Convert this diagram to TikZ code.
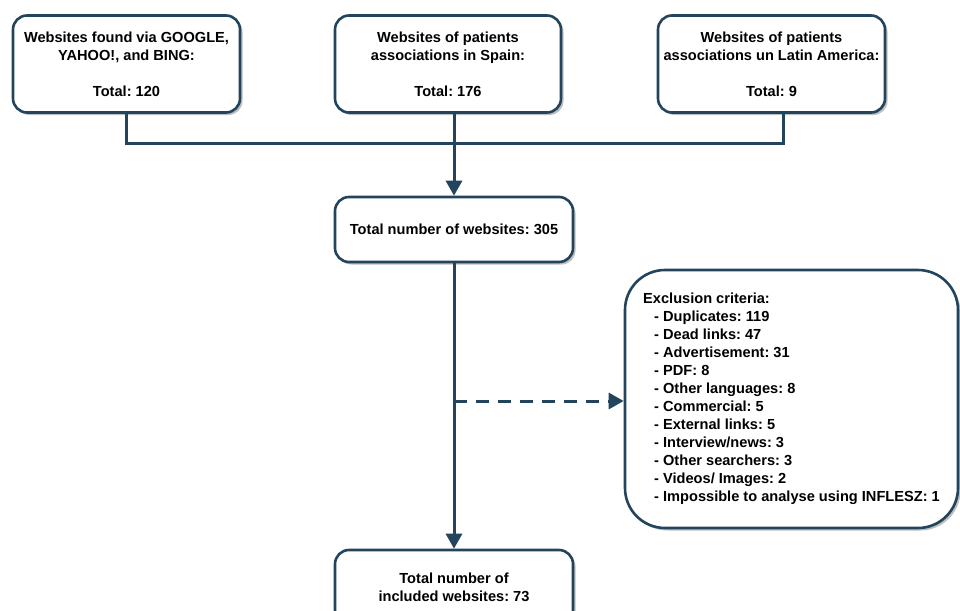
\documentclass[tikz,border=0pt]{standalone}
\usepackage{fontspec}
\setmainfont{Liberation Sans}
\usetikzlibrary{arrows.meta,shadows}
\definecolor{edge}{HTML}{23445D}
\frenchspacing
\begin{document}
\begin{tikzpicture}[x=1pt,y=-1pt,
  font=\fontsize{14.6}{18}\selectfont\bfseries,
  box/.style={draw=edge, line width=2.6pt, fill=white, rounded corners=14pt,
    align=center, inner sep=0pt,
    drop shadow={shadow xshift=2.5pt, shadow yshift=-2.5pt, fill=black, opacity=0.25}},
  link/.style={draw=edge, line width=3pt},
  tip/.style={-{Triangle[length=15pt,width=16pt]}}]
\useasboundingbox (0,0) rectangle (960,610);
\clip (0,0) rectangle (960,610);
\node[box, minimum width=227pt, minimum height=97pt] (b1) at (126.5,64)
  {Websites found via GOOGLE,\\YAHOO!, and BING:\\[18pt]Total: 120};
\node[box, minimum width=226pt, minimum height=97pt] (b2) at (448,64)
  {Websites of patients\\associations in Spain:\\[18pt]Total: 176};
\node[box, minimum width=227pt, minimum height=97pt] (b3) at (771.5,64)
  {Websites of patients\\associations un Latin America:\\[18pt]Total: 9};
\node[box, minimum width=238pt, minimum height=65pt] (tot) at (454,229.5)
  {Total number of websites: 305};
\node[box, minimum width=238pt, minimum height=74pt] (inc) at (454,587)
  {Total number of\\included websites: 73};
\node[box, rounded corners=40pt, minimum width=333pt, minimum height=258pt,
  align=left] (exc) at (791.5,399)
  {Exclusion criteria:\\
  \hspace*{11pt}- Duplicates: 119\\
  \hspace*{11pt}- Dead links: 47\\
  \hspace*{11pt}- Advertisement: 31\\
  \hspace*{11pt}- PDF: 8\\
  \hspace*{11pt}- Other languages: 8\\
  \hspace*{11pt}- Commercial: 5\\
  \hspace*{11pt}- External links: 5\\
  \hspace*{11pt}- Interview/news: 3\\
  \hspace*{11pt}- Other searchers: 3\\
  \hspace*{11pt}- Videos/ Images: 2\\
  \hspace*{11pt}- Impossible to analyse using INFLESZ: 1};
\coordinate (c1) at (126,143);
\coordinate (c3) at (783,143);
\coordinate (d0) at (454,401);
\draw[link] (b1.south -| c1) -- (c1) -- (c3) -- (c3 |- b3.south);
\draw[link, tip] (b2.south -| tot.north) -- (tot.north);
\draw[link, tip] (tot.south) -- (inc.north);
\draw[link, tip, dash pattern=on 13pt off 9pt] (d0) -- (exc.west |- d0);
\end{tikzpicture}
\end{document}
